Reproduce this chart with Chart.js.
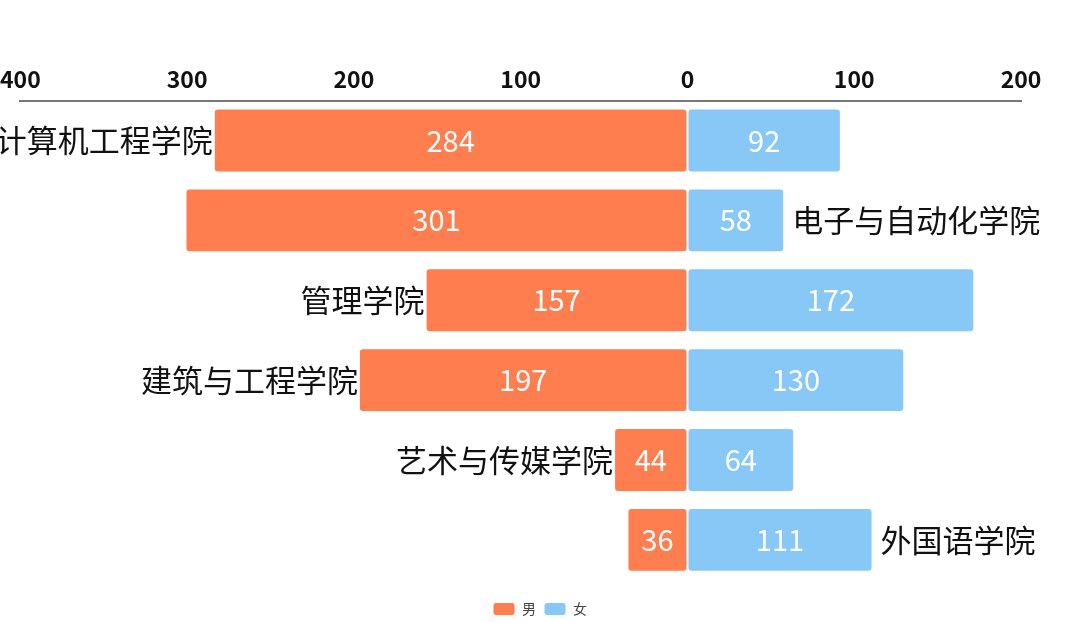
<!DOCTYPE html>
<html>
<head>
<meta charset="utf-8">
<script src="https://cdn.jsdelivr.net/npm/chart.js@4.4.1/dist/chart.umd.min.js"></script>
<style>
  html, body { margin: 0; padding: 0; background: #fff; }
  #wrap { width: 1080px; height: 622px; }
</style>
</head>
<body>
<div id="wrap"><canvas id="chart" width="1080" height="622"></canvas></div>
<script>
var colleges = ['计算机工程学院', '电子与自动化学院', '管理学院', '建筑与工程学院', '艺术与传媒学院', '外国语学院'];
var maleCounts = [284, 301, 157, 197, 44, 36];
var femaleCounts = [92, 58, 172, 130, 64, 111];
// which side of the bar pair the college name sits on
var nameSide = ['left', 'right', 'left', 'left', 'left', 'right'];

var CJK = '"Noto Sans CJK SC", "Noto Sans", sans-serif';

var collegeNames = {
  id: 'collegeNames',
  afterLayout: function(chart) {
    // centre the legend on the whole canvas rather than on the padded area
    var lg = chart.legend;
    if (lg) {
      var shift = chart.width / 2 - (lg.left + lg.right) / 2;
      lg.left += shift;
      lg.right += shift;
    }
  },
  afterDatasetsDraw: function(chart) {
    var ctx = chart.ctx;
    var maleMeta = chart.getDatasetMeta(0);
    var femaleMeta = chart.getDatasetMeta(1);
    ctx.save();
    ctx.font = '31px ' + CJK;
    ctx.fillStyle = '#111';
    ctx.textBaseline = 'middle';
    colleges.forEach(function(name, i) {
      var m = maleMeta.data[i], f = femaleMeta.data[i];
      if (nameSide[i] === 'left') {
        ctx.textAlign = 'right';
        ctx.fillText(name, Math.min(m.x, m.base) - 1, m.y);
      } else {
        ctx.textAlign = 'left';
        ctx.fillText(name, Math.max(f.x, f.base) + 8, f.y);
      }
    });
    // values inside the bars
    ctx.font = '29px ' + CJK;
    ctx.fillStyle = '#fff';
    ctx.textAlign = 'center';
    [maleMeta, femaleMeta].forEach(function(meta, d) {
      var vals = d === 0 ? maleCounts : femaleCounts;
      meta.data.forEach(function(bar, i) {
        ctx.fillText(String(vals[i]), (bar.x + bar.base) / 2, bar.y);
      });
    });
    ctx.restore();
  }
};

new Chart(document.getElementById('chart').getContext('2d'), {
  type: 'bar',
  data: {
    labels: colleges,
    datasets: [{
      label: '男',
      data: maleCounts.map(function(v) { return -v; }),
      backgroundColor: '#FE7E4F',
      borderColor: '#fff',
      borderWidth: 1,
      borderRadius: 4,
      borderSkipped: false
    }, {
      label: '女',
      data: femaleCounts,
      backgroundColor: '#88C8F7',
      borderColor: '#fff',
      borderWidth: 1,
      borderRadius: 4,
      borderSkipped: false
    }]
  },
  options: {
    indexAxis: 'y',
    responsive: false,
    animation: false,
    categoryPercentage: 0.8,
    barPercentage: 1,
    layout: { padding: { left: 2, right: 59, top: 65, bottom: -4 } },
    plugins: {
      legend: {
        position: 'bottom',
        title: { display: true, text: '', font: { size: 1 }, padding: { top: 0, bottom: 13 } },
        labels: {
          boxWidth: 22, boxHeight: 13, useBorderRadius: true, borderRadius: 3,
          color: '#444', font: { size: 14, family: CJK }, padding: 8
        }
      },
      tooltip: { enabled: false }
    },
    scales: {
      x: {
        position: 'top',
        stacked: true,
        min: -400, max: 200,
        grid: { display: false },
        border: { display: true, color: '#777', width: 2 },
        ticks: {
          stepSize: 100,
          padding: 0,
          color: '#111',
          font: { size: 23, weight: 'bold', family: CJK },
          callback: function(v) { return Math.abs(v); }
        }
      },
      y: { stacked: true, display: false }
    }
  },
  plugins: [collegeNames]
});
</script>
</body>
</html>
